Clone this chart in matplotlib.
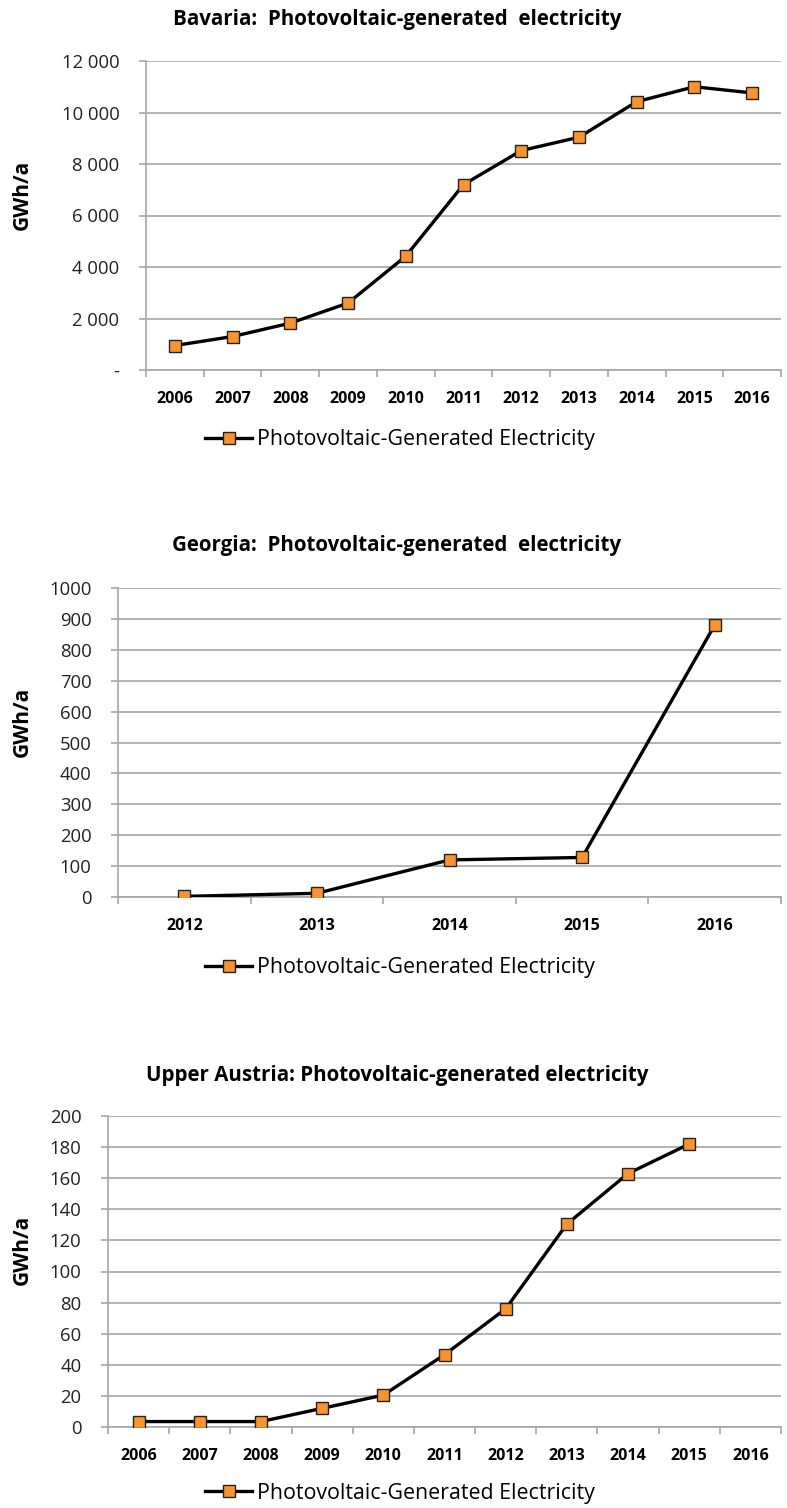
import numpy as np
import matplotlib as mpl
import matplotlib.pyplot as plt
from matplotlib.ticker import FuncFormatter, MultipleLocator, FixedLocator

mpl.use('Agg')
plt.rcParams['font.family'] = ['Open Sans', 'DejaVu Sans']

# data
bavaria_years = ['2006', '2007', '2008', '2009', '2010', '2011', '2012', '2013', '2014', '2015', '2016']
bavaria_gwh = [950, 1300, 1820, 2600, 4420, 7200, 8520, 9040, 10420, 11000, 10760]

georgia_years = ['2012', '2013', '2014', '2015', '2016']
georgia_gwh = [2, 12, 120, 128, 880]

austria_years = ['2006', '2007', '2008', '2009', '2010', '2011', '2012', '2013', '2014', '2015', '2016']
austria_gwh = [3.5, 3.5, 3.5, 12, 20.5, 46.5, 76, 130.5, 163, 182, np.nan]

titles = ['Bavaria:  Photovoltaic-generated  electricity',
          'Georgia:  Photovoltaic-generated  electricity',
          'Upper Austria: Photovoltaic-generated electricity']
series_name = 'Photovoltaic-Generated Electricity'

W, H = 787, 1508
ORANGE = '#F7942F'
GRID = '#a6a6a6'


def fx(px):
    return px / W


def fy(px):
    return 1 - px / H


def bavaria_fmt(v, pos):
    if abs(v) < 1e-9:
        return '-'
    return '{:,.0f}'.format(v).replace(',', ' ')


def panel(years, values, box, ymax, ystep, fmt, title_y, ylab_y, leg_y, title):
    left, top, right, bottom = box
    ax = fig.add_axes([fx(left), fy(bottom), fx(right - left), (bottom - top) / H])
    x = np.arange(len(years))
    ax.plot(x, values, color='black', lw=2.4, marker='s', ms=8,
            mfc=ORANGE, mec='#222222', mew=1.0, label=series_name, zorder=3)
    ax.set_xlim(-0.5, len(years) - 0.5)
    ax.set_ylim(0, ymax)
    ax.yaxis.set_major_locator(MultipleLocator(ystep))
    ax.yaxis.set_major_formatter(FuncFormatter(fmt))
    ax.set_xticks(x)
    ax.set_xticklabels(years, fontweight='bold', fontsize=11.5)
    ax.xaxis.set_minor_locator(FixedLocator(np.arange(len(years) + 1) - 0.5))
    ax.tick_params(axis='x', which='major', length=0, pad=15)
    ax.tick_params(axis='x', which='minor', length=5, color=GRID, width=1.2)
    ax.tick_params(axis='y', length=5, color=GRID, width=1.2, pad=14, labelsize=13.3, labelcolor='#222222')
    ax.grid(axis='y', color=GRID, lw=1.2)
    ax.set_axisbelow(True)
    for s in ['top', 'right']:
        ax.spines[s].set_visible(False)
    for s in ['left', 'bottom']:
        ax.spines[s].set_color(GRID)
        ax.spines[s].set_linewidth(1.2)
    fig.text(fx(397), fy(title_y), title, ha='center', va='center', fontsize=14.8, fontweight='bold')
    fig.text(fx(22), fy(ylab_y), 'GWh/a', ha='center', va='center', rotation=90,
             fontsize=15, fontweight='bold')
    fig.legend(handles=ax.get_lines(), loc='center', bbox_to_anchor=(fx(400), fy(leg_y)),
               frameon=False, fontsize=15.4, handlelength=2.2, handletextpad=0.2)
    return ax


fig = plt.figure(figsize=(W / 100, H / 100), dpi=100)

panel(bavaria_years, bavaria_gwh, (146, 61, 781, 370), 12000, 2000, bavaria_fmt, 19, 195, 440, titles[0])
panel(georgia_years, georgia_gwh, (118, 588, 781, 897), 1000, 100,
      lambda v, p: '{:.0f}'.format(v), 546, 722, 968, titles[1])
panel(austria_years, austria_gwh, (108, 1116, 781, 1427), 200, 20,
      lambda v, p: '{:.0f}'.format(v), 1076, 1250, 1493, titles[2])

plt.savefig('out.png', dpi=100)
